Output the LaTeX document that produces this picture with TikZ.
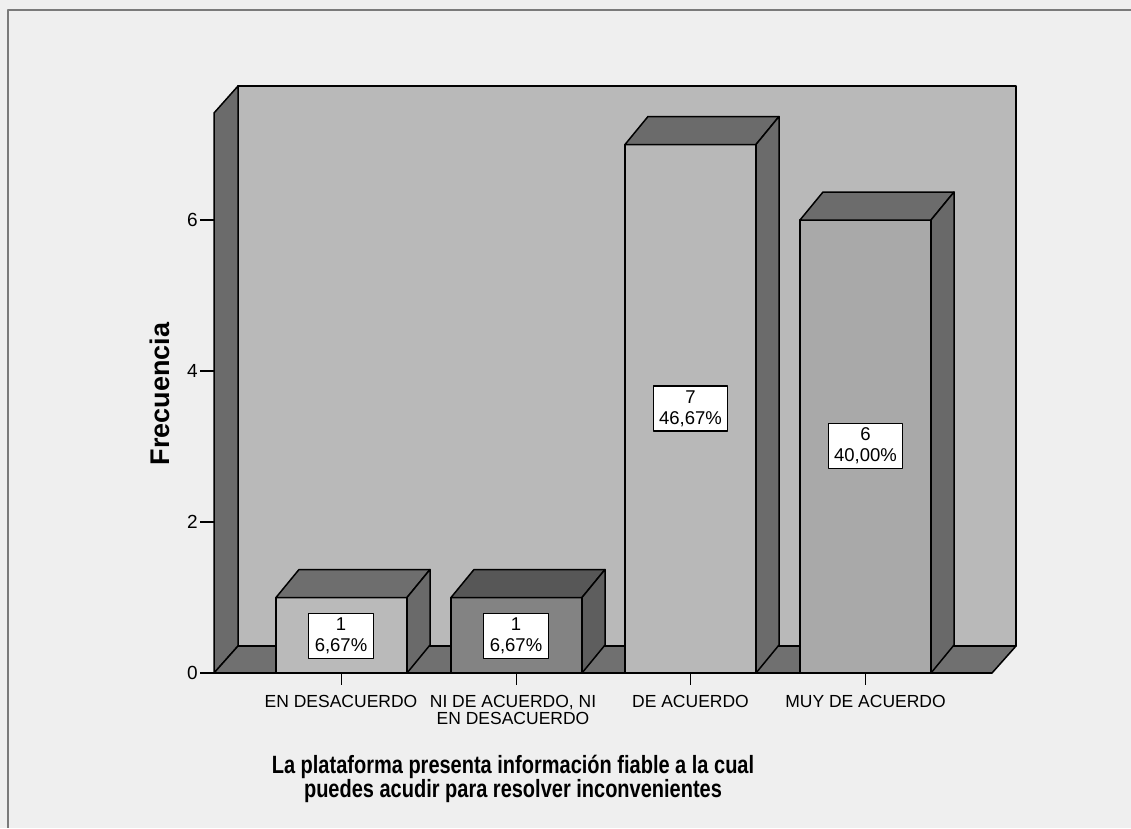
\documentclass[tikz,border=0pt]{standalone}
\usepackage{fontspec}
\setmainfont{Liberation Sans}
\usetikzlibrary{calc}

\definecolor{fondo}{HTML}{EFEFEF}
\definecolor{marco}{HTML}{7A7A7A}
\definecolor{pared}{HTML}{B9B9B9}
\definecolor{paredlado}{HTML}{6B6B6B}
\definecolor{suelo}{HTML}{707070}

\begin{document}
\begin{tikzpicture}[x=1pt,y=-1pt
  ,line join=round
  ,every node/.style={font=\fontsize{17.5}{17.5}\selectfont}]
  \tikzstyle{cara}=[draw=black,line width=1.5pt]
  \tikzstyle{valor}=[draw=black,fill=white,line width=1.2pt,align=center
  ,inner xsep=6pt,inner ysep=4.5pt,font=\fontsize{18.5}{21}\selectfont]
  \tikzstyle{categoria}=[anchor=north,inner sep=0pt,align=center]
  \tikzstyle{marca}=[anchor=east,inner sep=1pt,font=\fontsize{19}{19}\selectfont]

  % fondo y marco
  \fill[fondo] (0,0) rectangle (1131,828);
  \useasboundingbox (0,0) rectangle (1131,828);
  \draw[marco,line width=2pt] (1131,10) -- (8,10) -- (8,828);

  % pared del fondo, pared izquierda y suelo
  \filldraw[cara,fill=pared] (238,86) rectangle (1016,646);
  \filldraw[cara,fill=paredlado] (214,673) -- (214,113) -- (238,86) -- (238,646) -- cycle;
  \filldraw[cara,fill=suelo] (214,673) -- (238,646) -- (1016,646) -- (992,673) -- cycle;

  % barras: centro / frecuencia / frente / tapa / lado
  \foreach \cx/\alto/\frente/\tapa/\lado in {
    341.5/1/BABABA/6E6E6E/6A6A6A,
    516.5/1/838383/575757/5E5E5E,
    690.5/7/B8B8B8/6B6B6B/6B6B6B,
    865.5/6/A9A9A9/6C6C6C/696969}
  {
    \pgfmathsetmacro\yt{673-75.5*\alto}
    \definecolor{cf}{HTML}{\frente}
    \definecolor{ct}{HTML}{\tapa}
    \definecolor{cl}{HTML}{\lado}
    \filldraw[cara,fill=cf] (\cx-65.5,673) rectangle (\cx+65.5,\yt);
    \filldraw[cara,fill=ct] (\cx-65.5,\yt) -- ++(23,-28) -- ++(131,0) -- (\cx+65.5,\yt) -- cycle;
    \filldraw[cara,fill=cl] (\cx+65.5,673) -- (\cx+65.5,\yt) -- ++(23,-28) -- (\cx+88.5,645) -- cycle;
    \draw[line width=1.2pt] (\cx,673) -- (\cx,685);
  }

  % etiquetas de valor
  \node[valor] (v1) at (341,636) {1\\6,67\%};
  \node[valor] (v2) at (516,636) {1\\6,67\%};
  \node[valor] (v3) at (690.5,408.5) {7\\46,67\%};
  \node[valor] (v4) at (865.5,446) {6\\40,00\%};

  % eje vertical
  \foreach \f in {0,2,4,6}
    \draw[line width=1.2pt] (200,673-75.5*\f) -- (214,673-75.5*\f);
  \draw[line width=1.2pt] (200,673) -- (992,673);
  \node[marca] (t0) at (199,673) {0};
  \node[marca] (t2) at (199,522) {2};
  \node[marca] (t4) at (199,371) {4};
  \node[marca] (t6) at (199,220) {6};
  \node[rotate=90,font=\bfseries\fontsize{27}{27}\selectfont] (ejey) at (160,394) {Frecuencia};

  % categorias
  \node[categoria] (c1) at (341,695) {EN DESACUERDO};
  \node[categoria] (c2) at (513,695) {NI DE ACUERDO, NI\\EN DESACUERDO};
  \node[categoria] (c3) at (690.5,695) {DE ACUERDO};
  \node[categoria] (c4) at (865.5,695) {MUY DE ACUERDO};

  % titulo del eje horizontal
  \node[align=center,xscale=0.8,transform shape
  ,font=\bfseries\fontsize{25}{24}\selectfont] (ejex) at (513,779)
  {La plataforma presenta información fiable a la cual\\puedes acudir para resolver inconvenientes};
\end{tikzpicture}
\end{document}
